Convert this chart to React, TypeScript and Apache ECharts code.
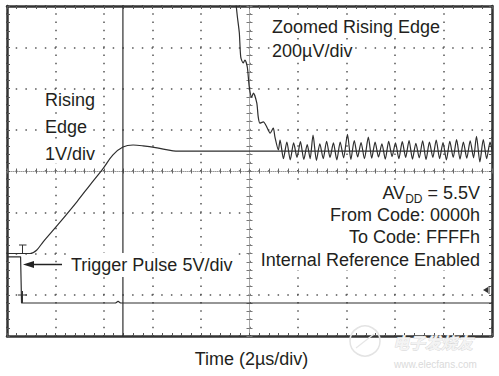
import React, { useEffect, useRef } from "react";
import * as echarts from "echarts";

// Time in µs (2 µs/div, 0 at screen centre); level in divisions (0 at screen centre)
const risingTime = [-10, -9.05, -8.78, -8.5, -7.9, -7.11, -6.58, -6.04, -5.63, -5.22, -4.8, -4.39, -3.81, -3.15, -2.58, 10];
const risingLevel = [-2.0, -2.0, -1.92, -1.71, -1.3, -0.74, -0.34, 0.06, 0.39, 0.58, 0.63, 0.61, 0.56, 0.49, 0.48, 0.48];

const triggerTime = [-10, -9.44, -9.4, -5.52, -5.42, -5.32, 10];
const triggerLevel = [-2.08, -2.08, -3.2, -3.2, -3.16, -3.2, -3.2];

const zoomEdgeTime = [-10, -5.22, -5.22, -0.62];
const zoomEdgeLevel = [-4.4, -4.4, 4.4, 4.4];

const zoomRingTime = [
  -0.62, -0.5, -0.42, -0.36, -0.26, -0.19, -0.09, -0.01, 0.09, 0.16, 0.3, 0.36, 0.43, 0.57, 0.71, 0.85, 0.98, 1.05, 1.19, 1.26,
  1.4, 1.54, 1.68, 1.82, 1.96, 2.1, 2.24, 2.38, 2.5, 2.62, 2.76, 2.9, 3.04, 3.18, 3.32, 3.46, 3.6, 3.74, 3.88, 4.04,
  4.18, 4.32, 4.46, 4.6, 4.74, 4.9, 5.04, 5.18, 5.32, 5.46, 5.6, 5.74, 5.88, 6.02, 6.16, 6.3, 6.44, 6.58, 6.72, 6.86,
  7.0, 7.14, 7.28, 7.42, 7.56, 7.7, 7.84, 7.98, 8.12, 8.26, 8.4, 8.54, 8.68, 8.82, 8.96, 9.1, 9.24, 9.36, 9.5, 9.64,
  9.78, 9.92, 10.0,
];
const zoomRingLevel = [
  4.4, 3.74, 3.35, 2.76, 2.62, 2.69, 2.52, 2.04, 1.79, 1.89, 1.65, 1.31, 1.16, 1.19, 1.07, 0.92, 1.04, 0.82, 0.51, 0.75,
  0.3, 0.7, 0.27, 0.68, 0.33, 0.71, 0.28, 0.64, 0.3, 0.87, 0.26, 0.66, 0.3, 0.72, 0.33, 0.68, 0.27, 0.7, 0.32, 0.89,
  0.28, 0.74, 0.34, 0.69, 0.3, 0.82, 0.31, 0.7, 0.34, 0.66, 0.29, 0.72, 0.35, 0.68, 0.3, 0.71, 0.33, 0.74, 0.29, 0.67,
  0.32, 0.73, 0.28, 0.7, 0.33, 0.75, 0.3, 0.69, 0.27, 0.72, 0.33, 0.76, 0.29, 0.7, 0.31, 0.73, 0.32, 0.84, 0.22, 0.76,
  0.3, 0.7, 0.5,
];

const risingLabel = ["Rising", "Edge", "1V/div"];
const zoomLabel = ["Zoomed Rising Edge", "200µV/div"];
const avddParts = ["AV", "DD", " = 5.5V"];
const rightNotes = ["From Code: 0000h", "To Code: FFFFh", "Internal Reference Enabled"];
const triggerLabel = "Trigger Pulse 5V/div";
const xTitle = "Time (2µs/div)";

const FONT_FAMILY = '"Liberation Sans", Arial, Helvetica, sans-serif';
const INK = "#231f20";
const TRACE = "#2e2e2e";

const measure = (text: string, font: string) => {
  const ctx = document.createElement("canvas").getContext("2d");
  if (!ctx) return text.length * 9;
  ctx.font = font;
  return ctx.measureText(text).width;
};

const txt = (text: string, x: number, y: number, align: string = "left", size: number = 18, extra: any = {}) => ({
  type: "text",
  x,
  y,
  z: 20,
  style: {
    text,
    fill: INK,
    font: `${size}px ${FONT_FAMILY}`,
    align,
    verticalAlign: "middle",
    textAlign: align,
    textVerticalAlign: "middle",
    ...extra,
  },
});

const frameX = (position: string, split: boolean) => ({
  type: "value",
  min: -10,
  max: 10,
  interval: 2,
  position,
  axisLine: { show: true, onZero: false, lineStyle: { color: "#333", width: 2.5 } },
  axisTick: { show: true, inside: true, length: 3, lineStyle: { color: "#555", width: 1 } },
  minorTick: { show: true, splitNumber: 5, length: 3, lineStyle: { color: "#555", width: 1 } },
  axisLabel: { show: false },
  splitLine: { show: split, lineStyle: { color: "#555", width: 1.5, type: [1.5, 6.75], dashOffset: 0.75 } },
});

const frameY = (position: string, split: boolean) => ({
  type: "value",
  min: -4,
  max: 4,
  interval: 1,
  position,
  axisLine: { show: true, onZero: false, lineStyle: { color: "#333", width: 2.5 } },
  axisTick: { show: true, inside: true, length: 3, lineStyle: { color: "#555", width: 1 } },
  minorTick: { show: true, splitNumber: 5, length: 3, lineStyle: { color: "#555", width: 1 } },
  axisLabel: { show: false },
  splitLine: { show: split, lineStyle: { color: "#555", width: 1.5, type: [1.5, 8.2], dashOffset: 0.75 } },
});

const centreX = (inside: boolean) => ({
  type: "value",
  min: -10,
  max: 10,
  interval: 2,
  position: "bottom",
  axisLine: { show: inside, onZero: true, onZeroAxisIndex: 0, lineStyle: { color: "#999", width: 1, type: [1, 1] } },
  axisTick: { show: true, inside, length: 2.5, lineStyle: { color: "#666", width: 1 } },
  minorTick: { show: true, splitNumber: 5, length: 2.5, lineStyle: { color: "#666", width: 1 } },
  axisLabel: { show: false },
  splitLine: { show: false },
});

const centreY = (inside: boolean) => ({
  type: "value",
  min: -4,
  max: 4,
  interval: 1,
  position: "left",
  axisLine: { show: inside, onZero: true, onZeroAxisIndex: 0, lineStyle: { color: "#aaa", width: 1 } },
  axisTick: { show: true, inside, length: 3, lineStyle: { color: "#777", width: 1 } },
  minorTick: { show: true, splitNumber: 5, length: 3, lineStyle: { color: "#777", width: 1 } },
  axisLabel: { show: false },
  splitLine: { show: false },
});

const lineSeries = (name: string, xs: number[], ys: number[], smooth: number | boolean, z = 5) => ({
  name,
  type: "line",
  xAxisIndex: 0,
  yAxisIndex: 0,
  data: xs.map((x, i) => [x, ys[i]]),
  showSymbol: false,
  symbol: "none",
  smooth,
  clip: true,
  z,
  lineStyle: { color: TRACE, width: 1.2 },
});

export default function App() {
  const ref = useRef<HTMLDivElement>(null);

  useEffect(() => {
    if (!ref.current) return;
    const chart = echarts.init(ref.current, null, { renderer: "svg" });

    const mainFont = `18px ${FONT_FAMILY}`;
    const subFont = `12px ${FONT_FAMILY}`;
    const rightEdge = 480;
    const w3 = measure(avddParts[2], mainFont);
    const w2 = measure(avddParts[1], subFont);
    const w1 = measure(avddParts[0], mainFont);

    const graphics: any[] = [];
    risingLabel.forEach((t, i) => graphics.push(txt(t, 45, 100 + i * 27, "left", 18, { backgroundColor: "#fff" })));
    zoomLabel.forEach((t, i) => graphics.push(txt(t, 272, 27 + i * 24, "left", 18, { backgroundColor: "#fff" })));
    graphics.push({
      type: "rect",
      z: 15,
      shape: { x: 257, y: 183, width: 226, height: 87 },
      style: { fill: "#fff" },
    });
    graphics.push(txt(avddParts[0], rightEdge - w3 - w2 - w1, 193, "left", 18));
    graphics.push(txt(avddParts[1], rightEdge - w3 - w2, 199, "left", 12));
    graphics.push(txt(avddParts[2], rightEdge, 193, "right", 18));
    rightNotes.forEach((t, i) => graphics.push(txt(t, rightEdge, 215 + i * 22.3, "right", 18)));
    graphics.push(txt(triggerLabel, 69, 265, "left", 18, { backgroundColor: "#fff", padding: [3, 2, 3, 2] }));
    graphics.push({
      type: "line",
      z: 21,
      shape: { x1: 31, y1: 264.5, x2: 62, y2: 264.5 },
      style: { stroke: "#222", lineWidth: 1.5 },
    });
    graphics.push({
      type: "polygon",
      z: 21,
      shape: { points: [[23, 264.5], [34, 261], [34, 268]] },
      style: { fill: "#222" },
    });
    graphics.push({ type: "line", z: 21, shape: { x1: 19, y1: 245, x2: 26.5, y2: 245 }, style: { stroke: "#333", lineWidth: 1 } });
    graphics.push({ type: "line", z: 21, shape: { x1: 22.5, y1: 245, x2: 22.5, y2: 253 }, style: { stroke: "#333", lineWidth: 1 } });
    graphics.push({ type: "line", z: 21, shape: { x1: 18, y1: 295, x2: 27, y2: 295 }, style: { stroke: "#333", lineWidth: 1 } });
    graphics.push({ type: "line", z: 21, shape: { x1: 22.5, y1: 291, x2: 22.5, y2: 303 }, style: { stroke: "#333", lineWidth: 1 } });
    graphics.push({
      type: "polygon",
      z: 21,
      shape: { points: [[483, 290], [488, 287], [488, 293]] },
      style: { fill: "#333" },
    });
    graphics.push({ type: "line", z: 21, shape: { x1: 489, y1: 286, x2: 489, y2: 294 }, style: { stroke: "#333", lineWidth: 1 } });
    graphics.push(txt(xTitle, 251.5, 359, "center", 18));
    // Watermark
    graphics.push({
      type: "circle",
      z: 1,
      shape: { cx: 365, cy: 341, r: 15 },
      style: { fill: "none", stroke: "#e3e3e3", lineWidth: 1.5 },
    });
    graphics.push({
      type: "line",
      z: 1,
      shape: { x1: 356, y1: 348, x2: 374, y2: 334 },
      style: { stroke: "#e6e6e6", lineWidth: 1.2 },
    });
    graphics.push({
      type: "text",
      x: 393,
      y: 342,
      z: 2,
      style: {
        text: "电子发烧友",
        font: `italic bold 16px "Noto Sans CJK SC", sans-serif`,
        fill: "#f4f4f4",
        stroke: "#d6d6d6",
        lineWidth: 0.8,
        align: "left",
        verticalAlign: "middle",
        textAlign: "left",
        textVerticalAlign: "middle",
      },
    });
    graphics.push({
      type: "text",
      x: 394,
      y: 364,
      z: 2,
      style: {
        text: "www.elecfans.com",
        font: `10px ${FONT_FAMILY}`,
        fill: "#dadada",
        align: "left",
        verticalAlign: "middle",
        textAlign: "left",
        textVerticalAlign: "middle",
      },
    });

    chart.setOption({
      animation: false,
      backgroundColor: "#fff",
      grid: { left: 7, top: 6, width: 485, height: 330, containLabel: false },
      xAxis: [frameX("bottom", true), frameX("top", false), centreX(true), centreX(false)],
      yAxis: [frameY("left", true), frameY("right", false), centreY(true), centreY(false)],
      series: [
        lineSeries("Trigger Pulse", triggerTime, triggerLevel, false, 4),
        lineSeries("Rising Edge", risingTime, risingLevel, 0.35, 5),
        lineSeries("Zoomed Edge Step", zoomEdgeTime, zoomEdgeLevel, false, 6),
        lineSeries("Zoomed Rising Edge", zoomRingTime, zoomRingLevel, 0.25, 6),
      ],
      graphic: graphics,
    });

    return () => chart.dispose();
  }, []);

  return <div ref={ref} style={{ position: "fixed", left: 0, top: 0, width: 499, height: 376, background: "#fff" }} />;
}
